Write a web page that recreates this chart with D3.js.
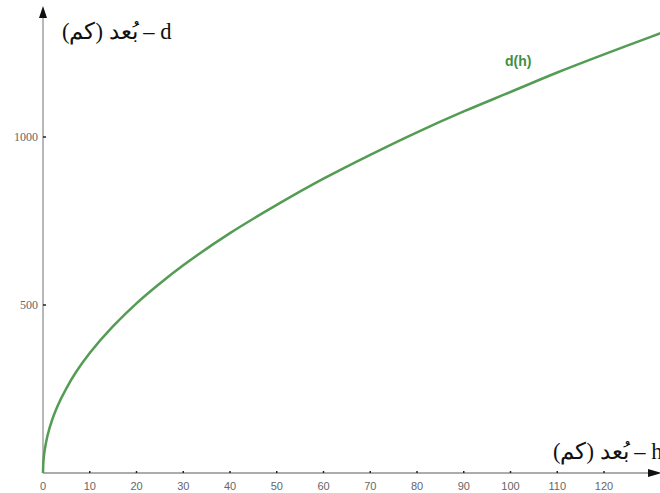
<!DOCTYPE html>
<html>
<head>
<meta charset="utf-8">
<script src="https://cdn.jsdelivr.net/npm/d3@7"></script>
<style>
  body { margin: 0; background: #fff; }
  svg { display: block; }
</style>
</head>
<body>
<div id="chart"></div>
<script>
// values: height h (km) -> distance d (km)
const heights = [0, 0.1, 0.3, 0.6, 1, 2, 3, 5, 7, 10, 15, 20, 25, 30, 40, 50, 60, 70, 80, 90, 100, 110, 120, 130, 133];
const distances = [0, 36, 62, 87, 113, 160, 196, 252, 299, 357, 437, 505, 564, 618, 714, 798, 876, 947, 1014, 1076, 1134, 1192, 1246, 1298, 1314];
const xTicks = [0, 10, 20, 30, 40, 50, 60, 70, 80, 90, 100, 110, 120];
const yTicks = [500, 1000];

const width = 660, height = 493;
const origin = { x: 43, y: 473 };

const svg = d3.select('#chart').append('svg')
    .attr('width', width)
    .attr('height', height);

const xScale = d3.scaleLinear().domain([0, 120]).range([origin.x, 604]);
const yScale = d3.scaleLinear().domain([0, 1000]).range([origin.y, 137]);

// y axis
svg.append('line')
    .attr('x1', origin.x).attr('x2', origin.x)
    .attr('y1', origin.y).attr('y2', 14)
    .attr('stroke', '#b8b8b8').attr('stroke-width', 2);
svg.append('path')
    .attr('d', `M${origin.x},6 L${origin.x - 4},18 L${origin.x + 4},18 Z`)
    .attr('fill', '#111');

// x axis
svg.append('line')
    .attr('x1', origin.x).attr('x2', 650)
    .attr('y1', origin.y).attr('y2', origin.y)
    .attr('stroke', '#909090').attr('stroke-width', 1.5);
svg.append('path')
    .attr('d', `M662,${origin.y} L648,${origin.y - 4} L648,${origin.y + 4} Z`)
    .attr('fill', '#111');

// x ticks
const xg = svg.append('g');
xg.selectAll('line').data(xTicks.slice(1)).join('line')
    .attr('x1', d => xScale(d)).attr('x2', d => xScale(d))
    .attr('y1', origin.y - 2).attr('y2', origin.y)
    .attr('stroke', '#222').attr('stroke-width', 1.5);
xg.selectAll('text').data(xTicks).join('text')
    .attr('x', d => xScale(d))
    .attr('y', 490)
    .attr('text-anchor', 'middle')
    .attr('font-family', 'Liberation Sans, Arial, sans-serif')
    .attr('font-size', 11)
    .attr('fill', '#666')
    .text(d => d);

// y ticks
const yg = svg.append('g');
yg.selectAll('line').data(yTicks).join('line')
    .attr('x1', origin.x).attr('x2', origin.x + 3)
    .attr('y1', d => yScale(d)).attr('y2', d => yScale(d))
    .attr('stroke', '#222').attr('stroke-width', 1.5);
yg.selectAll('text').data(yTicks).join('text')
    .attr('x', 38)
    .attr('y', d => yScale(d) + 4)
    .attr('text-anchor', 'end')
    .attr('font-family', 'Liberation Serif, Times New Roman, serif')
    .attr('font-size', 12)
    .attr('fill', '#666')
    .text(d => d);

// curve
const points = heights.map((h, i) => ({ h, d: distances[i] }));
const line = d3.line()
    .x(p => xScale(p.h))
    .y(p => yScale(p.d))
    .curve(d3.curveMonotoneY);

svg.append('defs').append('clipPath').attr('id', 'clip')
    .append('rect').attr('x', 0).attr('y', 0).attr('width', width).attr('height', height);

svg.append('path')
    .datum(points)
    .attr('clip-path', 'url(#clip)')
    .attr('d', line)
    .attr('fill', 'none')
    .attr('stroke', '#549c54')
    .attr('stroke-width', 2.5);

svg.append('text')
    .attr('x', 505).attr('y', 66)
    .attr('font-family', 'Liberation Sans, Arial, sans-serif')
    .attr('font-weight', 'bold')
    .attr('font-size', 14)
    .attr('fill', '#3f8f3f')
    .text('d(h)');

// axis titles
svg.append('text')
    .attr('x', 62).attr('y', 39)
    .attr('font-family', 'Liberation Serif, Times New Roman, serif')
    .attr('font-size', 22.5)
    .attr('fill', '#111')
    .text('بُعد (كم) – d');

svg.append('text')
    .attr('x', 553).attr('y', 459)
    .attr('font-family', 'Liberation Serif, Times New Roman, serif')
    .attr('font-size', 22.5)
    .attr('fill', '#111')
    .text('بُعد (كم) – h');
</script>
</body>
</html>
